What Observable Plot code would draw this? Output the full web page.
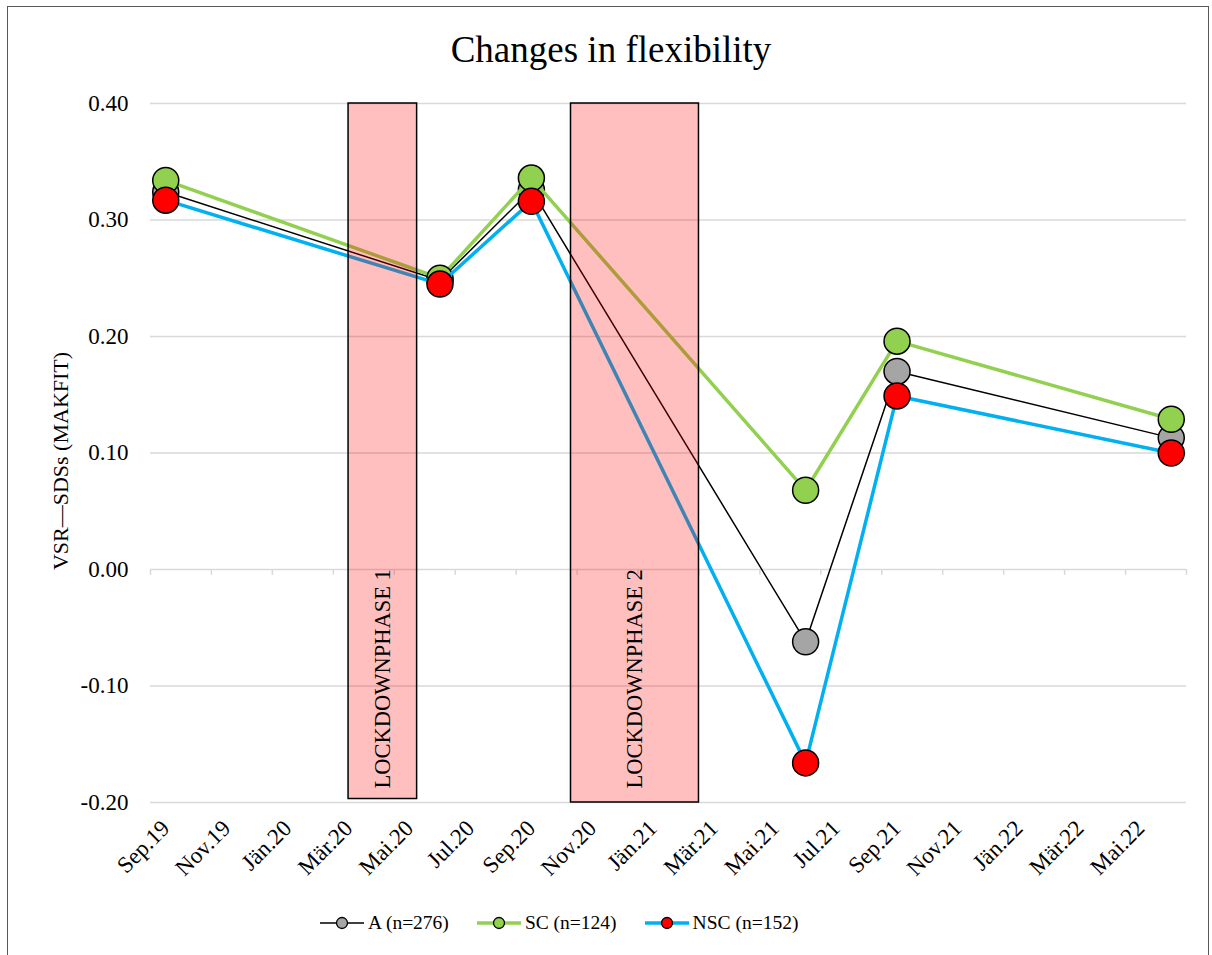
<!DOCTYPE html>
<html>
<head>
<meta charset="utf-8">
<script src="https://cdn.jsdelivr.net/npm/d3@7"></script>
<script src="https://cdn.jsdelivr.net/npm/@observablehq/plot@0.6"></script>
<style>
  html, body { margin: 0; padding: 0; background: #fff; }
  body { width: 1212px; height: 955px; position: relative; overflow: hidden; font-family: "Liberation Serif", "Times New Roman", serif; }
  #frame { position: absolute; left: 7px; top: 6px; width: 1202px; height: 960px; border: 1.5px solid #595959; box-sizing: border-box; pointer-events: none; z-index: 5; }
  #title { height: 80px; text-align: center; font-size: 37px; line-height: 44px; padding-top: 28px; box-sizing: border-box; color: #000; padding-left: 10px; }
  #chart svg { background: transparent; }
  #chart svg text { font-family: "Liberation Serif", "Times New Roman", serif; font-variant-numeric: normal; }
  #legend { position: absolute; left: 320px; top: 911px; display: flex; gap: 28px; align-items: center; font-size: 19.5px; color: #000; }
  .item { display: flex; align-items: center; gap: 4px; }
</style>
</head>
<body>
<div id="frame"></div>
<div id="title">Changes in flexibility</div>
<div id="chart"></div>
<div id="legend"></div>
<script>
// ---- data ----
const pointMonths = ["2019-09", "2020-06", "2020-09", "2021-06", "2021-09", "2022-06"];
const seriesA   = [0.324, 0.248, 0.326, -0.062, 0.170, 0.113];
const seriesSC  = [0.334, 0.250, 0.336,  0.068, 0.196, 0.129];
const seriesNSC = [0.317, 0.245, 0.316, -0.166, 0.149, 0.100];
const seriesNames = ["A (n=276)", "SC (n=124)", "NSC (n=152)"];
const tickLabels = ["Sep.19","Nov.19","Jän.20","Mär.20","Mai.20","Jul.20","Sep.20","Nov.20","Jän.21","Mär.21","Mai.21","Jul.21","Sep.21","Nov.21","Jän.22","Mär.22","Mai.22"];
const yTicks = [-0.2, -0.1, 0, 0.1, 0.2, 0.3, 0.4];
const lockLabels = ["LOCKDOWNPHASE 1", "LOCKDOWNPHASE 2"];
const lockStart  = [6.0, 13.3];   // month index since Sep.19
const lockEnd    = [8.25, 17.5];
const lockTop    = [0.40, 0.40];
const lockBottom = [-0.197, -0.20];
const yTitle = "VSR—SDSs (MAKFIT)";

// ---- helpers ----
const serif = '"Liberation Serif", "Times New Roman", serif';
const monthIndex = s => { const [y, m] = s.split("-").map(Number); return (y - 2019) * 12 + (m - 9); };
const ms = pointMonths.map(monthIndex);
const mk = arr => arr.map((v, i) => ({m: ms[i], v}));
const dataA = mk(seriesA), dataSC = mk(seriesSC), dataNSC = mk(seriesNSC);
const nMonths = monthIndex("2022-07"); // axis spans Sep.19 .. Jul.22
const labelMonths = tickLabels.map((_, i) => i * 2);
const boundaries = d3.range(0, nMonths / 2 + 1).map(k => k * 2 - 0.5);
const lockdowns = lockLabels.map((label, i) => ({label, start: lockStart[i], end: lockEnd[i], top: lockTop[i], bottom: lockBottom[i]}));

const colA = "#a5a5a5", colSC = "#92d050", colNSC = "#00b0f0", colNSCdot = "#ff0000";

const chart = Plot.plot({
  width: 1212,
  height: 800,
  marginTop: 23,
  marginBottom: 78,
  marginLeft: 150,
  marginRight: 26,
  style: {fontFamily: serif, fontSize: "23px", color: "#000", background: "transparent"},
  x: {type: "linear", domain: [-0.5, nMonths - 0.5]},
  y: {domain: [-0.2, 0.4]},
  marks: [
    Plot.ruleY(yTicks, {stroke: "#d9d9d9", strokeWidth: 1.5}),
    Plot.ruleX(boundaries, {y1: 0, y2: -0.005, stroke: "#d9d9d9", strokeWidth: 1.5}),
    Plot.axisY({ticks: yTicks, tickFormat: d => d.toFixed(2), tickSize: 0, tickPadding: 22, label: null, fontSize: 23, fontFamily: serif, fontVariant: "normal"}),
    Plot.axisX({ticks: labelMonths, tickFormat: d => tickLabels[d / 2], tickRotate: -45, tickSize: 0, tickPadding: 22, label: null, fontSize: 23, fontFamily: serif, fontVariant: "normal"}),
    Plot.text([yTitle], {frameAnchor: "left", dx: -90, dy: 8, rotate: -90, textAnchor: "middle", fontSize: 22, fill: "#000", fontFamily: serif}),
    Plot.line(dataA, {x: "m", y: "v", stroke: "#000", strokeWidth: 1.5}),
    Plot.dot(dataA, {x: "m", y: "v", r: 13, fill: colA, stroke: "#000", strokeWidth: 1.5}),
    Plot.line(dataSC, {x: "m", y: "v", stroke: colSC, strokeWidth: 3.5}),
    Plot.dot(dataSC, {x: "m", y: "v", r: 13, fill: colSC, stroke: "#000", strokeWidth: 1.5}),
    Plot.line(dataNSC, {x: "m", y: "v", stroke: colNSC, strokeWidth: 3.5}),
    Plot.dot(dataNSC, {x: "m", y: "v", r: 13, fill: colNSCdot, stroke: "#000", strokeWidth: 1.5}),
    Plot.rect(lockdowns, {x1: "start", x2: "end", y1: "bottom", y2: "top", fill: "#ff0000", fillOpacity: 0.25, stroke: "#000", strokeWidth: 1.5}),
    Plot.text(lockdowns, {x: d => (d.start + d.end) / 2, y: -0.188, text: "label", rotate: -90, textAnchor: "start", fontSize: 22.5, fill: "#000", fontFamily: serif})
  ]
});
document.getElementById("chart").appendChild(chart);

// ---- legend ----
const legendDefs = [
  {name: seriesNames[0], line: "#000", lw: 1.5, fill: colA},
  {name: seriesNames[1], line: colSC, lw: 3.5, fill: colSC},
  {name: seriesNames[2], line: colNSC, lw: 3.5, fill: colNSCdot}
];
const legend = document.getElementById("legend");
legendDefs.forEach(d => {
  const item = document.createElement("div");
  item.className = "item";
  item.innerHTML = `<svg width="44" height="24"><line x1="0" y1="12" x2="44" y2="12" stroke="${d.line}" stroke-width="${d.lw}"/><circle cx="22" cy="12" r="5.5" fill="${d.fill}" stroke="#000" stroke-width="1.3"/></svg><span>${d.name}</span>`;
  legend.appendChild(item);
});
</script>
</body>
</html>
